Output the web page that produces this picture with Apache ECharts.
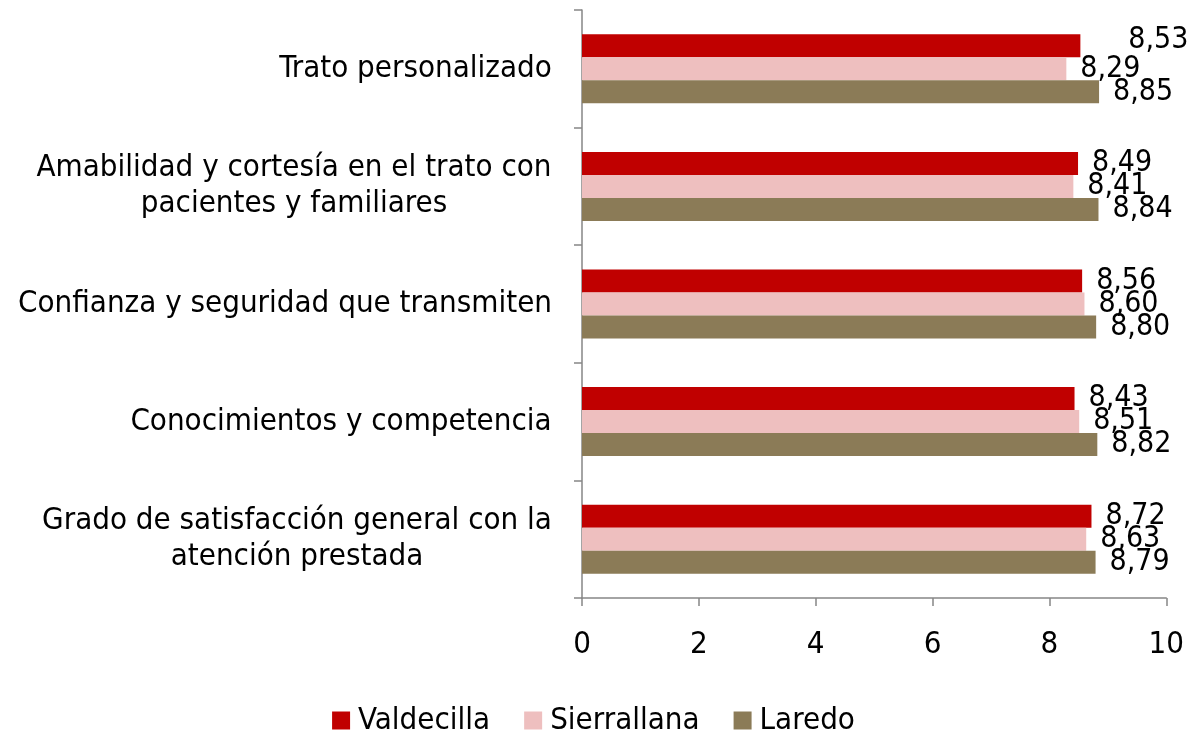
<!DOCTYPE html>
<html>
<head>
<meta charset="utf-8">
<script src="https://cdn.jsdelivr.net/npm/echarts@6/dist/echarts.min.js"></script>
<style>
  html, body { margin: 0; padding: 0; background: #fff; }
  #chart { width: 1187px; height: 732px; }
</style>
</head>
<body>
<div id="chart"></div>
<script>
// datos
var categorias = [
    'Trato personalizado',
    'Amabilidad y cortesía en el trato con\npacientes y familiares',
    'Confianza y seguridad que transmiten',
    'Conocimientos y competencia',
    'Grado de satisfacción general con la\natención prestada'
];
var valdecilla = [8.53, 8.49, 8.56, 8.43, 8.72];
var sierrallana = [8.29, 8.41, 8.60, 8.51, 8.63];
var laredo = [8.85, 8.84, 8.80, 8.82, 8.79];
var ejeX = [0, 2, 4, 6, 8, 10];

var FONT = 'DejaVu Sans Condensed';
var FS = 31;      // textos de ejes y leyenda
var FS_VAL = 30;  // etiquetas de valor

// ancho de cada linea para centrar las etiquetas de dos lineas
var ctx = document.createElement('canvas').getContext('2d');
ctx.font = FS + 'px "' + FONT + '"';
var rich = {};
categorias.forEach(function (c, i) {
    var lines = c.split('\n');
    var w = 0;
    lines.forEach(function (l) { w = Math.max(w, ctx.measureText(l).width); });
    rich['c' + i] = { width: Math.ceil(w), align: 'center', fontSize: FS, fontFamily: FONT, color: '#000', lineHeight: 36 };
});

function serie(nombre, datos, color, desplazada) {
    return {
        name: nombre,
        type: 'bar',
        data: datos.map(function (v, i) {
            // en el original la primera etiqueta está movida a mano
            if (desplazada && i === 0) return { value: v, label: { offset: [34, -6] } };
            return v;
        }),
        barWidth: 23,
        barGap: '0%',
        itemStyle: { color: color },
        label: {
            show: true,
            position: 'right',
            distance: 14,
            color: '#000',
            fontSize: FS_VAL,
            fontFamily: FONT,
            formatter: function (p) { return p.value.toFixed(2).replace('.', ','); }
        }
    };
}

var chart = echarts.init(document.getElementById('chart'));
chart.setOption({
    animation: false,
    textStyle: { fontFamily: FONT },
    grid: { left: 582, right: 20, top: 10, bottom: 134 },
    legend: {
        top: 700,
        left: 'center',
        icon: 'rect',
        itemWidth: 18,
        itemHeight: 18,
        itemGap: 34,
        textStyle: { fontSize: FS, color: '#000', fontFamily: FONT, padding: [0, 0, 0, 3] },
        data: ['Valdecilla', 'Sierrallana', 'Laredo']
    },
    xAxis: {
        type: 'value',
        min: ejeX[0],
        max: ejeX[ejeX.length - 1],
        interval: 2,
        splitLine: { show: false },
        axisLine: { show: true, lineStyle: { color: '#868686', width: 1.5 } },
        axisTick: { show: true, length: 8, lineStyle: { color: '#868686', width: 1.5 } },
        axisLabel: { fontSize: FS, color: '#000', margin: 31, fontFamily: FONT }
    },
    yAxis: {
        type: 'category',
        inverse: true,
        data: categorias,
        axisLine: { show: true, lineStyle: { color: '#868686', width: 1.5 } },
        axisTick: { show: true, length: 8, lineStyle: { color: '#868686', width: 1.5 } },
        axisLabel: {
            margin: 30,
            fontSize: FS,
            color: '#000',
            fontFamily: FONT,
            lineHeight: 36,
            rich: rich,
            formatter: function (v, i) {
                return v.split('\n').map(function (l) { return '{c' + i + '|' + l + '}'; }).join('\n');
            }
        }
    },
    series: [
        serie('Valdecilla', valdecilla, '#C00000', true),
        serie('Sierrallana', sierrallana, '#EEBFBF'),
        serie('Laredo', laredo, '#8B7B57')
    ]
});
</script>
</body>
</html>
